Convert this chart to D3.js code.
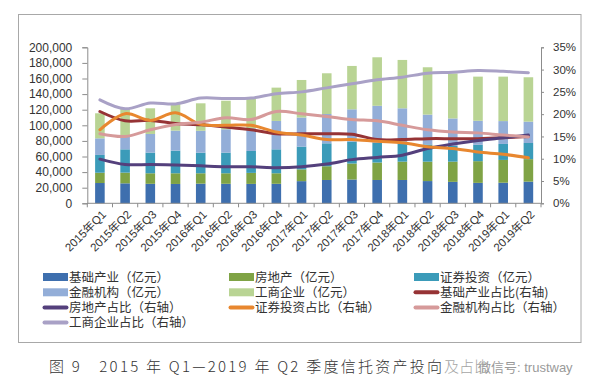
<!DOCTYPE html>
<html><head><meta charset="utf-8">
<script src="https://cdn.jsdelivr.net/npm/d3@7/dist/d3.min.js"></script>
<style>
html,body{margin:0;padding:0;background:#fff;}
svg{display:block;}
</style></head>
<body>
<svg id="chart" width="600" height="392"></svg>
<script>
const categories = ["2015年Q1","2015年Q2","2015年Q3","2015年Q4","2016年Q1","2016年Q2","2016年Q3","2016年Q4","2017年Q1","2017年Q2","2017年Q3","2017年Q4","2018年Q1","2018年Q2","2018年Q3","2018年Q4","2019年Q1","2019年Q2"];

// bar series (亿元)
const infra      = [26000,25600,25000,24800,25200,25000,24900,25000,28400,29900,30500,29900,29900,28500,27500,26200,26400,27800];
const realEstate = [13200,13700,13500,13700,13300,13500,14100,13500,15100,17600,20500,22400,23500,24900,25900,27800,29200,28800];
const securities = [22800,29900,26500,29000,26400,26500,28100,30700,29200,29400,28100,25500,23100,22100,20100,21000,20500,20700];
const financial  = [21300,16300,23900,25700,28100,29900,29100,36400,37300,37600,41400,47200,45300,38200,35300,30800,29300,27400];
const commerce   = [32100,36300,32900,34100,35200,36600,37600,42700,48100,52200,55600,62200,62000,60700,57700,56600,57000,56900];

// line series (右轴, %)
const infraPct      = [20.6,18.5,18.6,17.9,17.6,17.1,16.5,15.6,15.6,15.6,15.5,14.3,14.3,14.5,14.5,14.5,14.7,15.0];
const realEstatePct = [9.9,8.7,8.7,8.6,8.4,8.2,8.2,8.0,8.2,8.8,9.8,10.3,10.8,12.3,13.3,14.1,14.7,15.3];
const securitiesPct = [16.5,20.1,18.6,20.3,17.7,17.5,17.5,16.0,15.3,14.3,14.3,13.9,13.6,12.7,12.3,11.5,11.0,10.2];
const financialPct  = [15.6,15.0,16.5,17.7,18.2,19.2,18.8,20.6,20.1,19.5,18.8,18.5,17.5,16.5,16.0,15.8,15.3,14.9];
const commercePct   = [23.2,21.2,22.5,22.3,23.6,23.5,23.6,24.6,25.0,25.9,26.8,27.7,28.3,29.2,29.4,29.8,29.6,29.3];

const leftTicks  = [0,20000,40000,60000,80000,100000,120000,140000,160000,180000,200000];
const rightTicks = [0,5,10,15,20,25,30,35];

const barNames  = ["基础产业（亿元）","房地产（亿元）","证券投资（亿元）","金融机构（亿元）","工商企业（亿元）"];
const barColors = ["#3e6fae","#7fa345","#3b9bb9","#93aed8","#b9d494"];
const lineNames  = ["基础产业占比(右轴)","房地产占比（右轴）","证券投资占比（右轴）","金融机构占比（右轴）","工商企业占比（右轴）"];
const lineColors = ["#963335","#54407c","#e8872f","#d69a9a","#a9a1c6"];

const captionText = "图 9　2015 年 Q1—2019 年 Q2 季度信托资产投向";
const captionTail = "及占比";
const watermark = "微信号: trustway";

const svg = d3.select("#chart");
const plotL = 87.3, plotR = 541, plotT = 47.3, plotB = 203.3;

// frame
svg.append("rect").attr("x",18.5).attr("y",14.5).attr("width",562.5).attr("height",328)
  .attr("fill","#fff").attr("stroke","#a8a8a8").attr("stroke-width",1);

const x = d3.scaleBand().domain(categories).range([plotL,plotR]).paddingInner(0.62).paddingOuter(0.31);
const yL = d3.scaleLinear().domain([0,200000]).range([plotB,plotT]);
const yR = d3.scaleLinear().domain([0,35]).range([plotB,plotT]);

// stacked bars
const barSeries = [infra,realEstate,securities,financial,commerce];
const rows = categories.map((c,i)=>{const o={cat:c}; barSeries.forEach((s,k)=>o["s"+k]=s[i]); return o;});
const stack = d3.stack().keys(barSeries.map((s,k)=>"s"+k))(rows);
stack.forEach((layer,k)=>{
  svg.append("g").selectAll("rect").data(layer).join("rect")
    .attr("x",d=>x(d.data.cat)).attr("width",x.bandwidth())
    .attr("y",d=>yL(d[1])).attr("height",d=>yL(d[0])-yL(d[1]))
    .attr("fill",barColors[k]);
});

// axes
const axisColor = "#8c8c8c";
const fontNum = "'Liberation Sans', Arial, 'Noto Sans CJK SC', sans-serif";
const gL = svg.append("g").attr("transform",`translate(${plotL},0)`)
  .call(d3.axisLeft(yL).tickValues(leftTicks).tickFormat(d3.format(",")).tickSize(5).tickPadding(10));
const gR = svg.append("g").attr("transform",`translate(${plotR},0)`)
  .call(d3.axisRight(yR).tickValues(rightTicks).tickFormat(d=>d+"%").tickSize(3).tickPadding(9));
[gL,gR].forEach(g=>{
  g.select(".domain").attr("stroke",axisColor);
  g.selectAll(".tick line").attr("stroke",axisColor);
  g.selectAll("text").attr("fill","#333").style("font-family",fontNum);
});
gL.selectAll("text").style("font-size","12px");
gR.selectAll("text").style("font-size","11.5px");

// x axis
const xBase = svg.append("g");
xBase.append("line").attr("x1",plotL).attr("x2",plotR).attr("y1",plotB).attr("y2",plotB).attr("stroke",axisColor);
const step = x.step();
xBase.selectAll("line.t").data(d3.range(categories.length+1)).join("line").attr("class","t")
  .attr("x1",i=>plotL+i*step).attr("x2",i=>plotL+i*step).attr("y1",plotB).attr("y2",plotB+4).attr("stroke",axisColor);
xBase.selectAll("text").data(categories).join("text")
  .attr("transform",d=>`translate(${x(d)+x.bandwidth()/2+4},${plotB+9}) rotate(-45)`)
  .attr("text-anchor","end").attr("dy","0.35em")
  .style("font-family",fontNum).style("font-size","11.5px").attr("fill","#333").text(d=>d);

// lines
const lineSeries = [infraPct,realEstatePct,securitiesPct,financialPct,commercePct];
const line = d3.line().x((d,i)=>x(categories[i])+x.bandwidth()/2).y(d=>yR(d)).curve(d3.curveCatmullRom.alpha(0.5));
lineSeries.forEach((s,k)=>{
  svg.append("path").datum(s).attr("d",line).attr("fill","none")
    .attr("stroke",lineColors[k]).attr("stroke-width",3).attr("stroke-linejoin","round").attr("stroke-linecap","round");
});

// legend
const legendItems = barNames.map((n,k)=>({name:n,color:barColors[k],type:"bar"}))
  .concat(lineNames.map((n,k)=>({name:n,color:lineColors[k],type:"line"})));
const colX = [43,229,414], rowY = [277,292.3,307.5,322.5];
const lg = svg.append("g");
legendItems.forEach((it,i)=>{
  const cx = colX[i%3], cy = rowY[Math.floor(i/3)];
  if(it.type==="bar"){
    lg.append("rect").attr("x",cx).attr("y",cy-4).attr("width",25).attr("height",8).attr("fill",it.color);
  } else {
    lg.append("line").attr("x1",cx+1.5).attr("x2",cx+23.5).attr("y1",cy).attr("y2",cy)
      .attr("stroke",it.color).attr("stroke-width",4).attr("stroke-linecap","round");
  }
  lg.append("text").attr("x",cx+26).attr("y",cy).attr("dy","0.36em")
    .style("font-family","'Noto Sans CJK SC', sans-serif").style("font-size","12.5px").attr("fill","#333").text(it.name);
});

// caption
svg.append("text").attr("x",49).attr("y",367).attr("dy","0.36em")
  .attr("textLength",393).attr("lengthAdjust","spacing")
  .style("font-family","'Noto Sans CJK SC', sans-serif").style("font-size","15px").style("font-weight","300")
  .attr("fill","#333").text(captionText);
svg.append("text").attr("x",444).attr("y",367).attr("dy","0.36em")
  .style("font-family","'Noto Sans CJK SC', sans-serif").style("font-size","15px").style("font-weight","300")
  .attr("fill","#666").attr("opacity",0.6).text(captionTail);
svg.append("text").attr("x",478).attr("y",367).attr("dy","0.36em")
  .style("font-family","'Liberation Sans', 'Noto Sans CJK SC', sans-serif").style("font-size","13px")
  .attr("fill","#9a9a9a").text(watermark);
</script>
</body></html>
